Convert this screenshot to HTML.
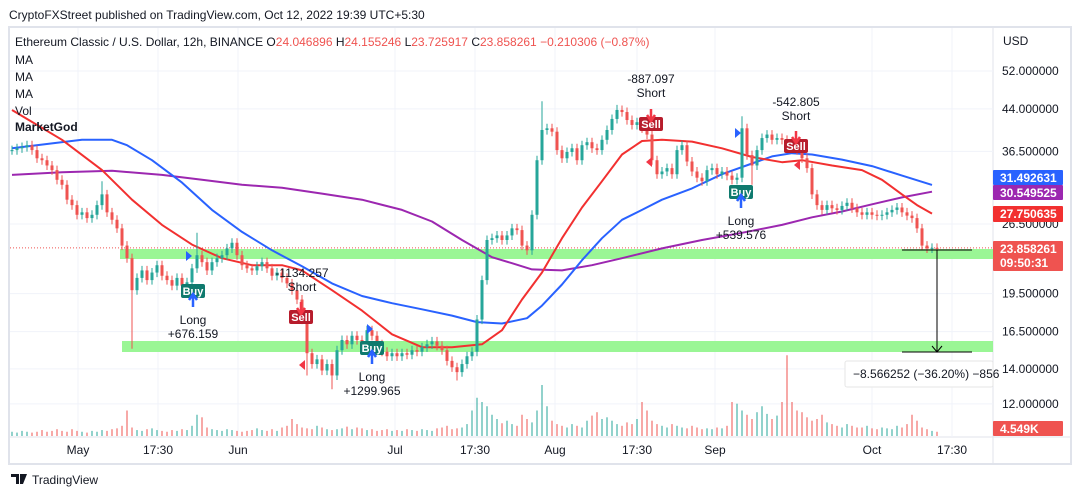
<!DOCTYPE html>
<html><head><meta charset="utf-8">
<style>
body{margin:0;background:#fff;width:1078px;height:499px;overflow:hidden;font-family:"Liberation Sans",sans-serif;}
#wrap{position:relative;width:1078px;height:499px;}
</style></head><body>
<div id="wrap">
<svg id="svg" width="1078" height="499" style="position:absolute;left:0;top:0"></svg>
</div>
<script>
const closes=[36.7,37.0,37.2,37.5,36.7,35.4,35.1,34.3,33.6,32.2,31.5,29.5,28.8,27.6,27.9,27.2,27.6,28.8,30.2,27.9,
27.0,26.0,24.1,22.8,19.8,20.9,21.6,20.7,21.4,22.1,21.1,20.7,20.2,20.9,20.2,20.5,21.8,23.1,22.4,21.6,
22.4,22.8,23.1,23.8,24.4,23.1,22.1,21.8,21.6,22.0,22.4,21.8,21.1,21.4,20.9,20.4,19.8,19.0,17.4,15.0,
14.3,14.6,13.9,14.3,13.6,15.2,15.9,15.6,16.2,15.9,15.8,16.6,16.2,15.6,15.1,14.8,15.0,14.8,15.0,14.9,
15.2,15.1,15.4,15.6,15.8,15.5,15.2,14.5,14.1,13.8,14.3,14.8,15.1,17.4,20.7,24.7,24.9,25.2,24.7,25.2,
26.0,25.8,24.1,23.6,27.6,35.1,40.1,40.4,39.8,36.7,35.4,36.4,37.0,35.1,37.5,38.0,37.0,36.7,38.4,40.1,
42.1,43.8,43.4,41.9,41.0,41.5,40.4,39.3,35.1,33.0,33.4,33.9,33.0,36.7,37.5,34.9,33.4,32.5,32.0,33.6,
33.9,33.0,33.4,32.8,32.2,32.5,40.4,35.9,34.3,36.7,38.7,39.3,38.4,38.7,38.4,37.5,37.0,36.7,35.4,33.9,
30.2,28.8,28.2,28.8,28.4,28.2,28.7,29.1,28.4,27.9,27.6,27.9,27.6,27.5,27.6,27.9,28.2,28.5,27.9,27.5,
27.2,26.0,24.1,23.8,23.86,23.858];
const volumes=[5,4,6,5,4,5,7,5,6,8,6,5,8,6,5,4,6,5,7,6,8,9,12,30,10,7,6,8,9,7,6,5,7,6,8,7,12,25,22,10,
8,7,6,8,7,6,5,6,7,9,7,6,8,6,10,12,20,14,10,9,8,12,10,8,7,8,9,11,8,10,9,7,8,6,7,8,6,7,6,8,
7,6,8,7,6,9,10,12,8,9,10,14,30,45,40,35,25,20,15,18,14,12,25,20,16,30,60,35,18,14,12,10,14,12,10,18,24,28,20,22,
18,14,12,16,14,20,40,30,18,14,12,10,14,12,10,9,12,10,8,9,8,10,9,12,40,38,30,25,20,28,35,26,20,24,40,95,40,30,28,22,
18,20,25,16,14,12,10,14,12,10,10,12,9,8,10,9,8,12,10,14,25,18,10,8,6,5];
const wickLowIdx=[24,59,64,89,148];
const wickLowVal=[15.3,13.6,12.8,13.3,31.5];
const wickHighIdx=[18,37,106,121,146,158];
const wickHighVal=[32.0,25.5,45.5,44.8,42.6,38.5];
const maFastIdx=[0,10,18,24,30,36,42,48,54,58,64,70,76,82,88,94,98,102,106,110,114,118,122,126,130,136,142,148,154,158,164,170,174,178,181,184];
const maFastVal=[43.8,38.4,33.6,29.5,26.4,24.2,22.8,22.1,22.1,21.6,19.8,18.1,16.3,15.4,15.4,15.6,16.6,19.0,21.4,24.9,28.5,32.0,36.0,38.2,38.4,38.1,37.0,35.6,34.8,35.1,34.3,33.6,32.2,30.2,28.8,27.75];
const maMidIdx=[0,8,14,20,23,28,34,40,46,52,58,64,70,76,82,88,93,98,103,106,110,114,118,122,126,130,136,142,148,152,156,160,166,172,178,184];
const maMidVal=[37.0,37.8,38.4,38.4,37.5,35.1,31.8,28.2,25.6,23.6,22.0,20.4,19.3,18.7,18.2,17.7,17.2,17.1,17.5,18.5,20.3,22.6,24.9,27.0,28.2,29.5,31.0,33.0,34.6,35.7,36.2,36.0,35.2,34.2,32.8,31.49];
const maSlowIdx=[0,10,20,30,38,46,54,62,70,78,84,90,96,100,104,110,116,122,130,138,146,154,160,166,172,178,184];
const maSlowVal=[32.9,33.3,33.5,32.9,32.2,31.5,31.1,30.3,29.5,28.2,26.8,24.7,22.9,22.3,21.7,21.6,22.1,22.8,23.8,24.7,25.5,26.4,27.3,28.0,28.9,29.8,30.55];
const priceTicks=[52,44,36.5,26.5,19.5,16.5,14,12];
const priceTickLabels=["52.000000","44.000000","36.500000","26.500000","19.500000","16.500000","14.000000","12.000000"];
const timeLabels=["May","17:30","Jun","Jul","17:30","Aug","17:30","Sep","Oct","17:30"];
const timeLabelX=[78,158,238,395,475,555,637,715,872,952];

const NS="http://www.w3.org/2000/svg";
const svg=document.getElementById('svg');
function X(i){return 12+5*i;}
function Y(p){return 71+Math.log(52/p)*227;}
function el(tag,attrs,parent){const e=document.createElementNS(NS,tag);for(const k in attrs)e.setAttribute(k,attrs[k]);(parent||svg).appendChild(e);return e;}
function txt(x,y,s,attrs,parent){const e=el('text',Object.assign({x:x,y:y,'font-family':'Liberation Sans, sans-serif','font-size':12,fill:'#131722'},attrs||{}),parent);e.textContent=s;return e;}

let f=el('rect',{x:9,y:27,width:1062,height:437,fill:'#fff',stroke:'#e0e3eb','stroke-width':2});


el('line',{x1:993,y1:27,x2:993,y2:464,stroke:'#e0e3eb'});
el('line',{x1:9,y1:437,x2:1071,y2:437,stroke:'#e0e3eb'});
priceTicks.forEach((p,k)=>{
  const g=el('line',{x1:10,x2:993,y1:Y(p),y2:Y(p),stroke:'#f0f3fa'});
  
  
  const t=txt(1002,Y(p)+4,priceTickLabels[k],{'font-size':12});
  
  
});
timeLabels.forEach((s,k)=>{
  el('line',{x1:timeLabelX[k],x2:timeLabelX[k],y1:28,y2:437,stroke:'#f0f3fa'});
  const t=txt(timeLabelX[k],454,s,{'text-anchor':'middle','font-size':12});
  
  
});
txt(1003,45,'USD',{'font-size':12});

let z1=el('rect',{x:120,y:249,width:873,height:10,fill:'#8ff58a',opacity:0.9});


let z2=el('rect',{x:122,y:341,width:871,height:11,fill:'#8ff58a',opacity:0.9});



const vg=el('g',{});


closes.forEach((c,i)=>{
  const o=i?closes[i-1]:c;
  const h=volumes[i]*0.85;
  const r=el('rect',{x:X(i)-1,y:436-h,width:2,height:h,fill:c>=o?'#26a69a':'#ef5350',opacity:0.5},vg);
  
  
});

el('line',{x1:10,x2:993,y1:Y(23.858),y2:Y(23.858),stroke:'#ef5350','stroke-dasharray':'1,2'});

function maPath(idx,val,color,name){
  const d=idx.map((ix,k)=>(k?'L':'M')+X(ix)+','+Y(val[k]).toFixed(1)).join(' ');
  const p=el('path',{d:d,fill:'none',stroke:color,'stroke-width':2,'stroke-linejoin':'round'});
  
  
}
maPath(maSlowIdx,maSlowVal,'#9c27b0','ma-slow-line');
maPath(maMidIdx,maMidVal,'#2962ff','ma-mid-line');
maPath(maFastIdx,maFastVal,'#f23030','ma-fast-line');

const cg=el('g',{});


closes.forEach((c,i)=>{
  const o=i?closes[i-1]:c;
  let hi=Math.max(o,c)*1.02, lo=Math.min(o,c)*0.98;
  const a=wickLowIdx.indexOf(i); if(a>=0)lo=wickLowVal[a];
  const b=wickHighIdx.indexOf(i); if(b>=0)hi=wickHighVal[b];
  const col=c>=o?'#26a69a':'#ef5350';
  el('line',{x1:X(i),x2:X(i),y1:Y(hi),y2:Y(lo),stroke:col,'stroke-width':1},cg);
  const y1=Y(Math.max(o,c)),y2=Y(Math.min(o,c));
  const r=el('rect',{x:X(i)-1.5,y:y1,width:3,height:Math.max(1,y2-y1),fill:col},cg);
  
  
});

const mg=el('g',{});


el('line',{x1:902,x2:972,y1:250,y2:250,stroke:'#000'},mg);
el('line',{x1:902,x2:972,y1:352,y2:352,stroke:'#000'},mg);
el('line',{x1:937,x2:937,y1:250,y2:352,stroke:'#000'},mg);
el('path',{d:'M932,346 L937,352 L942,346',fill:'none',stroke:'#000'},mg);
el('rect',{x:845,y:361,width:148,height:26,fill:'#fff',stroke:'#e6e6e6',rx:2},mg);
txt(853,378,'−8.566252 (−36.20%) −856',{'font-size':12},mg);

function tri(x,y,dir,color){el('path',{d:dir>0?`M${x},${y-5} L${x+6},${y} L${x},${y+5}Z`:`M${x},${y-5} L${x-6},${y} L${x},${y+5}Z`,fill:color});}
function buy(x,y){
  const g=el('g',{});
  
  
  el('rect',{x:x-12,y:y,width:24,height:14,rx:2,fill:'#0f7a6e'},g);
  txt(x,y+11,'Buy',{'text-anchor':'middle',fill:'#fff','font-weight':'bold','font-size':11},g);
  el('path',{d:`M${x-4},${y+16} L${x},${y+10} L${x+4},${y+16} M${x},${y+11} L${x},${y+23}`,stroke:'#2962ff','stroke-width':2.5,fill:'none'},g);
}
function sell(x,y){
  const g=el('g',{});
  
  
  el('rect',{x:x-12,y:y,width:24,height:14,rx:2,fill:'#b71c2c'},g);
  txt(x,y+11,'Sell',{'text-anchor':'middle',fill:'#fff','font-weight':'bold','font-size':11},g);
  el('path',{d:`M${x},${y-8} L${x},${y+4} M${x-4},${y-2} L${x},${y+4} L${x+4},${y-2}`,stroke:'#f23645','stroke-width':2.5,fill:'none'},g);
}
function lbl(x,y,a,b){txt(x,y,a,{'text-anchor':'middle','font-size':12});txt(x,y+14,b,{'text-anchor':'middle','font-size':12});}
buy(193,284); lbl(193,324,'Long','+676.159');
sell(301,310); lbl(302,277,'-1134.257','Short');
buy(372,341); lbl(372,381,'Long','+1299.965');
sell(651,117); lbl(651,83,'-887.097','Short');
buy(741,185); lbl(741,225,'Long','+539.576');
sell(796,139); lbl(796,106,'-542.805','Short');
tri(186,256,1,'#2962ff'); tri(367,329,1,'#2962ff'); tri(735,133,1,'#2962ff');
tri(305,365,-1,'#f23645'); tri(652,162,-1,'#f23645'); tri(800,165,-1,'#f23645');

function axisLbl(y,h,color,lines,name){
  const g=el('g',{});
  
  
  el('rect',{x:993,y:y,width:70,height:h,fill:color,rx:1},g);
  lines.forEach((s,k)=>txt(1000,y+12+k*14,s,{fill:'#fff','font-weight':'bold','font-size':12},g));
}
axisLbl(170,15,'#2962ff',['31.492631'],'ma-mid-price-label');
axisLbl(185,15,'#9c27b0',['30.549525'],'ma-slow-price-label');
axisLbl(206,16,'#f23030',['27.750635'],'ma-fast-price-label');
axisLbl(241,30,'#ef5350',['23.858261','09:50:31'],'last-price-label');
axisLbl(421,15,'#ef5350',['4.549K'],'volume-label');

let h=txt(9,19,'CryptoFXStreet published on TradingView.com, Oct 12, 2022 19:39 UTC+5:30',{'font-size':12});


const title=el('text',{x:15,y:46,'font-family':'Liberation Sans, sans-serif','font-size':12,fill:'#131722'});


title.setAttribute('xml:space','preserve');
title.innerHTML='Ethereum Classic / U.S. Dollar, 12h, BINANCE  O<tspan fill="#ef5350">24.046896</tspan>  H<tspan fill="#ef5350">24.155246</tspan>  L<tspan fill="#ef5350">23.725917</tspan>  C<tspan fill="#ef5350">23.858261</tspan>  <tspan fill="#ef5350">−0.210306 (−0.87%)</tspan>';
['MA','MA','MA','Vol'].forEach((s,k)=>{const t=txt(15,64+k*17,s,{'font-size':12});});
let mgT=txt(15,131,'MarketGod',{'font-size':12,'font-weight':'bold'});


let logo=el('g',{});


el('path',{d:'M11,474 h8 v10 h-3 v-7 h-5z M20,474 h7 l-4,10 h-3z',fill:'#131722'},logo);
txt(32,484,'TradingView',{'font-size':12},logo);
</script>
</body></html>
